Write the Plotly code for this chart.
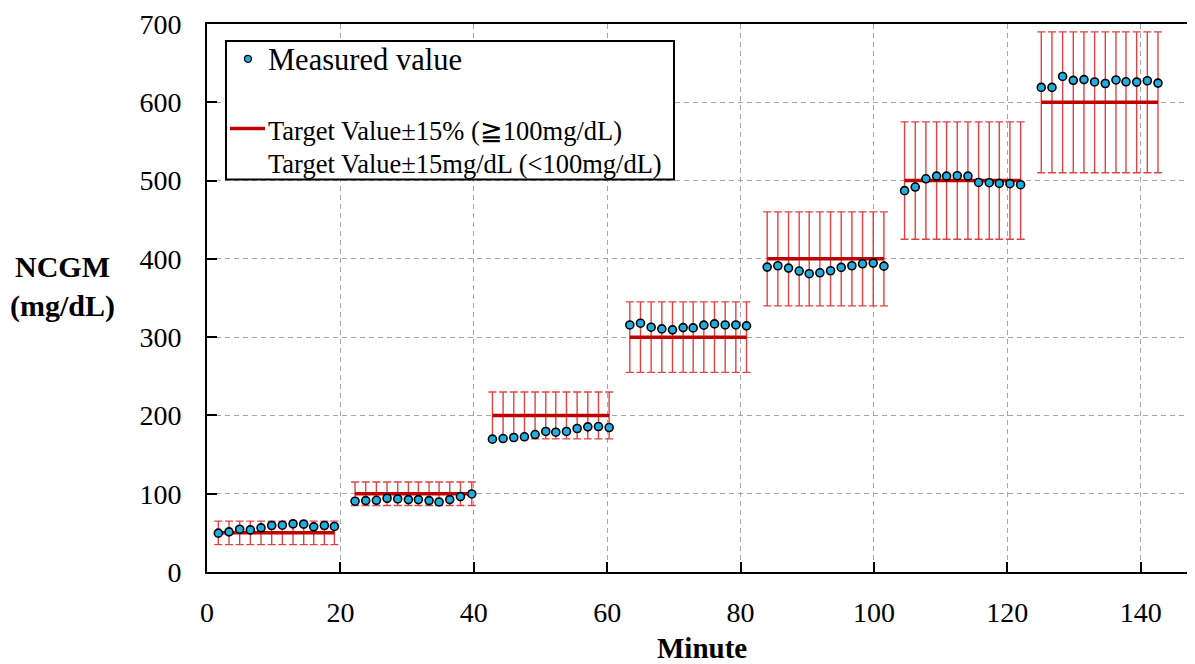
import plotly.graph_objects as go

# ---------------- data ----------------
targets = [50, 100, 200, 300, 400, 500, 600]

minutes = [
    [1.7, 3.3, 4.9, 6.5, 8.1, 9.7, 11.3, 12.9, 14.5, 16.0, 17.6, 19.1],
    [22.2, 23.8, 25.4, 27.0, 28.6, 30.2, 31.7, 33.3, 34.8, 36.4, 38.0, 39.7],
    [42.8, 44.4, 46.0, 47.6, 49.2, 50.8, 52.3, 53.9, 55.5, 57.1, 58.7, 60.3],
    [63.4, 65.0, 66.6, 68.2, 69.8, 71.4, 72.9, 74.5, 76.1, 77.7, 79.3, 80.9],
    [84.0, 85.6, 87.2, 88.8, 90.3, 91.9, 93.5, 95.1, 96.7, 98.3, 99.9, 101.5],
    [104.6, 106.2, 107.8, 109.4, 110.9, 112.5, 114.1, 115.7, 117.3, 118.8, 120.4, 122.0],
    [125.1, 126.7, 128.3, 129.9, 131.5, 133.1, 134.7, 136.3, 137.8, 139.4, 141.0, 142.6],
]

measured = [
    [49.6, 51.3, 54.7, 53.8, 56.4, 59.4, 59.8, 61.5, 61.1, 57.7, 59.4, 58.2],
    [90.4, 91.2, 91.6, 94.2, 93.3, 92.5, 92.5, 91.2, 89.5, 92.5, 96.3, 99.7],
    [169.7, 170.5, 171.8, 172.7, 175.6, 179.5, 178.6, 179.5, 183.3, 185.4, 185.8, 184.5],
    [315.6, 317.8, 312.7, 310.5, 309.3, 312.2, 311.8, 315.3, 316.9, 315.6, 315.6, 314.4],
    [389.5, 391.2, 388.2, 384.4, 381.0, 382.2, 384.8, 389.1, 391.2, 393.7, 394.6, 390.7],
    [487.1, 491.7, 502.3, 505.7, 505.7, 506.2, 505.7, 497.6, 497.3, 496.4, 496.0, 494.7],
    [619.0, 619.0, 633.0, 628.0, 629.0, 626.0, 624.0, 628.5, 626.2, 625.8, 627.5, 624.5],
]

x_ticks = [0, 20, 40, 60, 80, 100, 120, 140]
y_ticks = [0, 100, 200, 300, 400, 500, 600, 700]

legend_labels = ["Measured value",
                 "Target Value±15% (≧100mg/dL)",
                 "Target Value±15mg/dL (<100mg/dL)"]

# ---------------- derived series ----------------
err_x, err_y, err_v = [], [], []
line_x, line_y = [], []
pt_x, pt_y = [], []
for t, xs, ms in zip(targets, minutes, measured):
    tol = 15 if t < 100 else 0.15 * t
    for xv in xs:
        err_x.append(xv)
        err_y.append(t)
        err_v.append(tol)
    line_x += [xs[0], xs[-1], None]
    line_y += [t, t, None]
    pt_x += xs
    pt_y += ms

FONT = "Liberation Serif, Times New Roman, serif"
RED_BAR = "rgba(222,45,45,0.9)"
RED_LINE = "#c00000"
BLUE = "#22aee0"

fig = go.Figure()

fig.add_trace(go.Scatter(
    x=err_x, y=err_y, mode="markers",
    marker=dict(size=1, color="rgba(0,0,0,0)"),
    error_y=dict(type="data", array=err_v, symmetric=True,
                 color=RED_BAR, thickness=1.4, width=4),
    showlegend=False, hoverinfo="skip"))

fig.add_trace(go.Scatter(
    x=line_x, y=line_y, mode="lines",
    line=dict(color=RED_LINE, width=3.5),
    showlegend=False))

fig.add_trace(go.Scatter(
    x=pt_x, y=pt_y, mode="markers",
    marker=dict(size=8, color=BLUE, line=dict(color="black", width=1.6)),
    showlegend=False))

# ---------------- layout ----------------
# page body has an 8px default margin, so the figure is drawn 8px shifted
OFF = 8
W, H = 1195 - OFF, 664 - OFF
L_WIN, T_WIN, R_WIN, B_WIN = 207, 22, 1194, 572   # plot area in window pixels
pw, ph = R_WIN - L_WIN, B_WIN - T_WIN

def px(xp):
    return (xp - L_WIN) / pw

def py(yp):
    return (B_WIN - yp) / ph

shapes = [
    dict(type="rect", xref="paper", yref="paper",
         x0=px(226), x1=px(674), y0=py(178), y1=py(39),
         line=dict(color="black", width=2), fillcolor="white", layer="above"),
    dict(type="line", xref="paper", yref="paper",
         x0=px(230), x1=px(265), y0=py(127), y1=py(127),
         line=dict(color=RED_LINE, width=3.5), layer="above"),
    dict(type="circle", xref="paper", yref="paper",
         xsizemode="pixel", ysizemode="pixel",
         xanchor=px(248), yanchor=py(57),
         x0=-3.5, x1=3.5, y0=-3.5, y1=3.5,
         fillcolor=BLUE, line=dict(color="black", width=1.2), layer="above"),
]

annotations = [
    dict(xref="paper", yref="paper", x=px(266), y=py(58), xanchor="left", yanchor="middle",
         text=legend_labels[0], showarrow=False, font=dict(family=FONT, size=30.5, color="black")),
    dict(xref="paper", yref="paper", x=px(266), y=py(129), xanchor="left", yanchor="middle",
         text=legend_labels[1], showarrow=False, font=dict(family=FONT, size=26.5, color="black")),
    dict(xref="paper", yref="paper", x=px(266), y=py(163), xanchor="left", yanchor="middle",
         text=legend_labels[2], showarrow=False, font=dict(family=FONT, size=26.5, color="black")),
    dict(xref="paper", yref="paper", x=px(62), y=py(285), xanchor="center", yanchor="middle",
         text="NCGM<br>(mg/dL)", showarrow=False,
         font=dict(family=FONT, size=30, color="black", weight="bold")),
    dict(xref="paper", yref="paper", x=px(702), y=py(648), xanchor="center", yanchor="middle",
         text="Minute", showarrow=False,
         font=dict(family=FONT, size=29, color="black", weight="bold")),
]

fig.update_layout(
    width=W, height=H,
    margin=dict(l=L_WIN - OFF, r=W - (R_WIN - OFF), t=T_WIN - OFF, b=H - (B_WIN - OFF)),
    plot_bgcolor="white", paper_bgcolor="white",
    showlegend=False,
    shapes=shapes, annotations=annotations,
    xaxis=dict(range=[0, 148], tickvals=x_ticks, ticktext=[str(v) for v in x_ticks],
               showgrid=True, gridcolor="#a6a6a6", griddash="5px,4px", gridwidth=1,
               zeroline=False, showline=True, linecolor="black", linewidth=2, mirror=True,
               ticks="inside", ticklen=10, tickwidth=2, tickcolor="black",
               ticklabelstandoff=14, ticklabeloverflow="allow",
               tickfont=dict(family=FONT, size=28, color="black")),
    yaxis=dict(range=[0, 700], tickvals=y_ticks, ticktext=[str(v) for v in y_ticks],
               showgrid=True, gridcolor="#a6a6a6", griddash="5px,4px", gridwidth=1,
               zeroline=False, showline=True, linecolor="black", linewidth=2,
               ticks="inside", ticklen=10, tickwidth=2, tickcolor="black",
               ticklabelstandoff=18, ticklabeloverflow="allow",
               tickfont=dict(family=FONT, size=28, color="black")),
)

fig.write_html("out.html")
